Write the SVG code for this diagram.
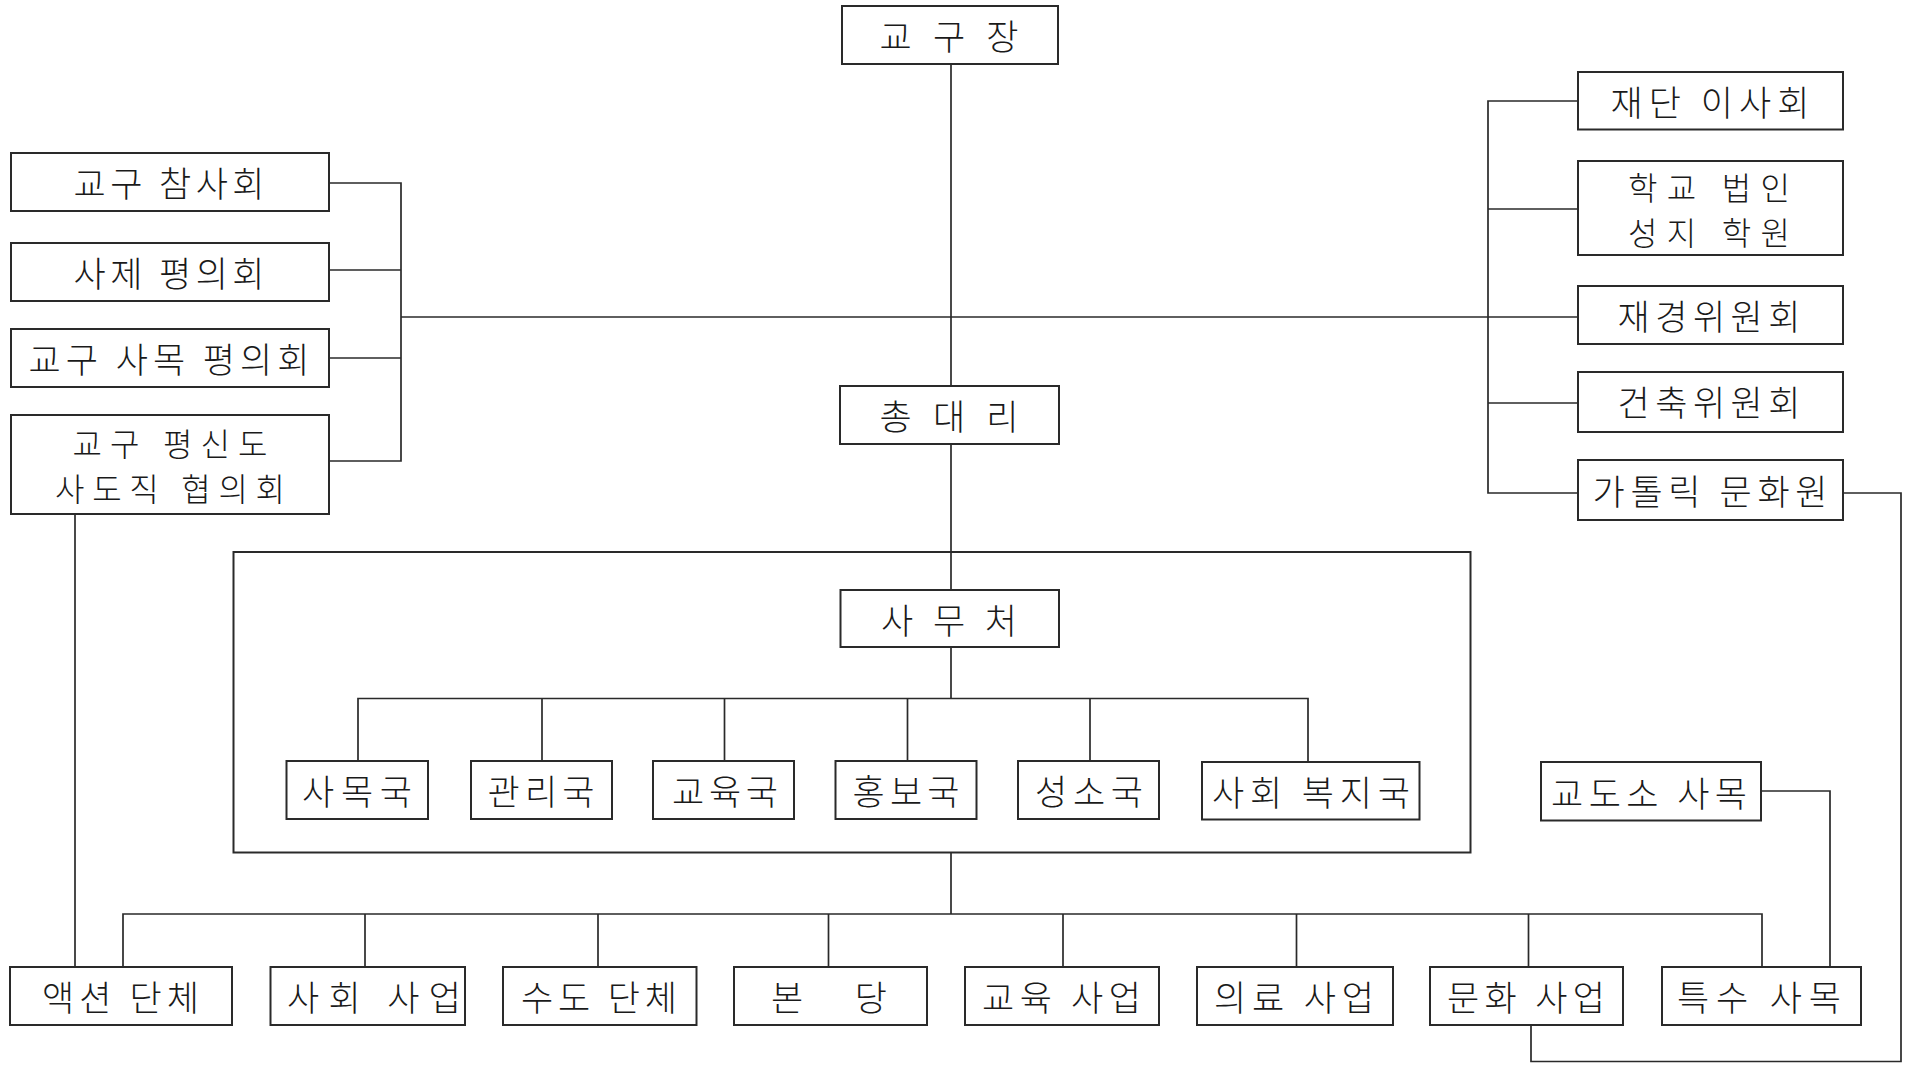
<svg xmlns="http://www.w3.org/2000/svg" width="1913" height="1071" viewBox="0 0 1913 1071">
<style>
  .bg { fill: #ffffff; }
  .box { fill: #ffffff; stroke: #2a2a2a; stroke-width: 2; }
  .frame { fill: none; stroke: #2a2a2a; stroke-width: 2; }
  .ln { fill: none; stroke: #2a2a2a; stroke-width: 1.7; }
  .t { font-family: "Noto Sans CJK KR", "Noto Sans", sans-serif; font-size: 35px; font-weight: 300; fill: #1a1a1a; text-anchor: middle; dominant-baseline: central; }
  .t2 { font-size: 32px; }
</style>
<rect class="bg" x="0" y="0" width="1913" height="1071"/>

<g id="connectors">
  <!-- main spine -->
  <path class="ln" d="M951,64 V386"/>
  <path class="ln" d="M401,317 H1578"/>
  <path class="ln" d="M951,444 V590"/>
  <!-- left bracket -->
  <path class="ln" d="M329,183 H401 V461 H329"/>
  <path class="ln" d="M329,270 H401"/>
  <path class="ln" d="M329,358 H401"/>
  <!-- right bracket -->
  <path class="ln" d="M1578,101 H1488 V493 H1578"/>
  <path class="ln" d="M1488,209 H1578"/>
  <path class="ln" d="M1488,403 H1578"/>
  <!-- office to departments -->
  <path class="ln" d="M951,647 V698.5"/>
  <path class="ln" d="M358,761 V698.5 H1308 V761"/>
  <path class="ln" d="M542,698.5 V761"/>
  <path class="ln" d="M724.5,698.5 V761"/>
  <path class="ln" d="M907.5,698.5 V761"/>
  <path class="ln" d="M1090,698.5 V761"/>
  <!-- frame to bottom row -->
  <path class="ln" d="M951,852.5 V914"/>
  <path class="ln" d="M123,967 V914 H1762 V967"/>
  <path class="ln" d="M365,914 V967"/>
  <path class="ln" d="M598,914 V967"/>
  <path class="ln" d="M828.5,914 V967"/>
  <path class="ln" d="M1063,914 V967"/>
  <path class="ln" d="M1296.5,914 V967"/>
  <path class="ln" d="M1528.5,914 V967"/>
  <!-- lay apostolate to action groups -->
  <path class="ln" d="M75,514 V967"/>
  <!-- prison ministry to special ministry -->
  <path class="ln" d="M1761,791 H1830 V967"/>
  <!-- cultural center to cultural work -->
  <path class="ln" d="M1843,493 H1901 V1061.5 H1531 V1025"/>
</g>

<rect id="curia-frame" class="frame" x="233.5" y="552" width="1237" height="300.5"/>

<g id="n-bishop"><rect class="box" x="842" y="6" width="216" height="58"/><text class="t" x="949" y="34.5" textLength="139" lengthAdjust="spacing">교 구 장</text></g>
<g id="n-vicar"><rect class="box" x="840" y="386" width="219" height="58"/><text class="t" x="949" y="414.5" textLength="139" lengthAdjust="spacing">총 대 리</text></g>

<g id="n-consultors"><rect class="box" x="11" y="153" width="318" height="58"/><text class="t" x="169" y="181.5" textLength="191" lengthAdjust="spacing">교구 참사회</text></g>
<g id="n-priests"><rect class="box" x="11" y="243" width="318" height="58"/><text class="t" x="169" y="271.5" textLength="191" lengthAdjust="spacing">사제 평의회</text></g>
<g id="n-pastoral"><rect class="box" x="11" y="329" width="318" height="58"/><text class="t" x="169" y="357.5" textLength="281" lengthAdjust="spacing">교구 사목 평의회</text></g>
<g id="n-laity"><rect class="box" x="11" y="415" width="318" height="99"/><text class="t t2" x="170" y="442" textLength="195" lengthAdjust="spacing">교구 평신도</text><text class="t t2" x="170" y="487" textLength="230" lengthAdjust="spacing">사도직 협의회</text></g>

<g id="n-foundation"><rect class="box" x="1578" y="72" width="265" height="57.5"/><text class="t" x="1710" y="100.5" textLength="199" lengthAdjust="spacing">재단 이사회</text></g>
<g id="n-school"><rect class="box" x="1578" y="161" width="265" height="94"/><text class="t t2" x="1709" y="186" textLength="162" lengthAdjust="spacing">학교 법인</text><text class="t t2" x="1709" y="231" textLength="162" lengthAdjust="spacing">성지 학원</text></g>
<g id="n-finance"><rect class="box" x="1578" y="286" width="265" height="58"/><text class="t" x="1709" y="314.5" textLength="183" lengthAdjust="spacing">재경위원회</text></g>
<g id="n-building"><rect class="box" x="1578" y="372" width="265" height="60"/><text class="t" x="1709" y="400.5" textLength="183" lengthAdjust="spacing">건축위원회</text></g>
<g id="n-culture-center"><rect class="box" x="1578" y="460" width="265" height="60"/><text class="t" x="1710" y="489.5" textLength="235" lengthAdjust="spacing">가톨릭 문화원</text></g>

<g id="n-office"><rect class="box" x="840.5" y="590" width="218.5" height="57"/><text class="t" x="949" y="618" textLength="136" lengthAdjust="spacing">사 무 처</text></g>

<g id="n-pastoral-dept"><rect class="box" x="286.5" y="761" width="141.5" height="58"/><text class="t" x="357" y="789.5" textLength="110" lengthAdjust="spacing">사목국</text></g>
<g id="n-admin-dept"><rect class="box" x="471" y="761" width="141" height="58"/><text class="t" x="541" y="789.5" textLength="107" lengthAdjust="spacing">관리국</text></g>
<g id="n-edu-dept"><rect class="box" x="653" y="761" width="141" height="58"/><text class="t" x="725" y="789.5" textLength="106" lengthAdjust="spacing">교육국</text></g>
<g id="n-pr-dept"><rect class="box" x="835.5" y="761" width="141" height="58"/><text class="t" x="906" y="789.5" textLength="107" lengthAdjust="spacing">홍보국</text></g>
<g id="n-vocation-dept"><rect class="box" x="1018" y="761" width="141" height="58"/><text class="t" x="1089" y="789.5" textLength="108" lengthAdjust="spacing">성소국</text></g>
<g id="n-welfare-dept"><rect class="box" x="1202" y="762" width="217.5" height="57.5"/><text class="t" x="1311" y="790" textLength="198" lengthAdjust="spacing">사회 복지국</text></g>

<g id="n-prison"><rect class="box" x="1541" y="762" width="220" height="58.5"/><text class="t" x="1649" y="791" textLength="196" lengthAdjust="spacing">교도소 사목</text></g>

<g id="n-action"><rect class="box" x="10" y="967" width="222" height="58"/><text class="t" x="120.5" y="995" textLength="157" lengthAdjust="spacing">액션 단체</text></g>
<g id="n-social"><rect class="box" x="270.5" y="967" width="194.5" height="58"/><text class="t" x="374" y="995" textLength="174" lengthAdjust="spacing">사회 사업</text></g>
<g id="n-religious"><rect class="box" x="503" y="967" width="193.5" height="58"/><text class="t" x="599" y="995" textLength="156" lengthAdjust="spacing">수도 단체</text></g>
<g id="n-parish"><rect class="box" x="734" y="967" width="193" height="58"/><text class="t" x="829" y="995" textLength="116" lengthAdjust="spacing">본 당</text></g>
<g id="n-education"><rect class="box" x="965" y="967" width="194" height="58"/><text class="t" x="1061.5" y="995" textLength="159" lengthAdjust="spacing">교육 사업</text></g>
<g id="n-medical"><rect class="box" x="1197" y="967" width="196" height="58"/><text class="t" x="1294" y="995" textLength="160" lengthAdjust="spacing">의료 사업</text></g>
<g id="n-culture"><rect class="box" x="1430" y="967" width="193" height="58"/><text class="t" x="1526" y="995" textLength="158" lengthAdjust="spacing">문화 사업</text></g>
<g id="n-special"><rect class="box" x="1662" y="967" width="199" height="58"/><text class="t" x="1759" y="995" textLength="164" lengthAdjust="spacing">특수 사목</text></g>
</svg>
